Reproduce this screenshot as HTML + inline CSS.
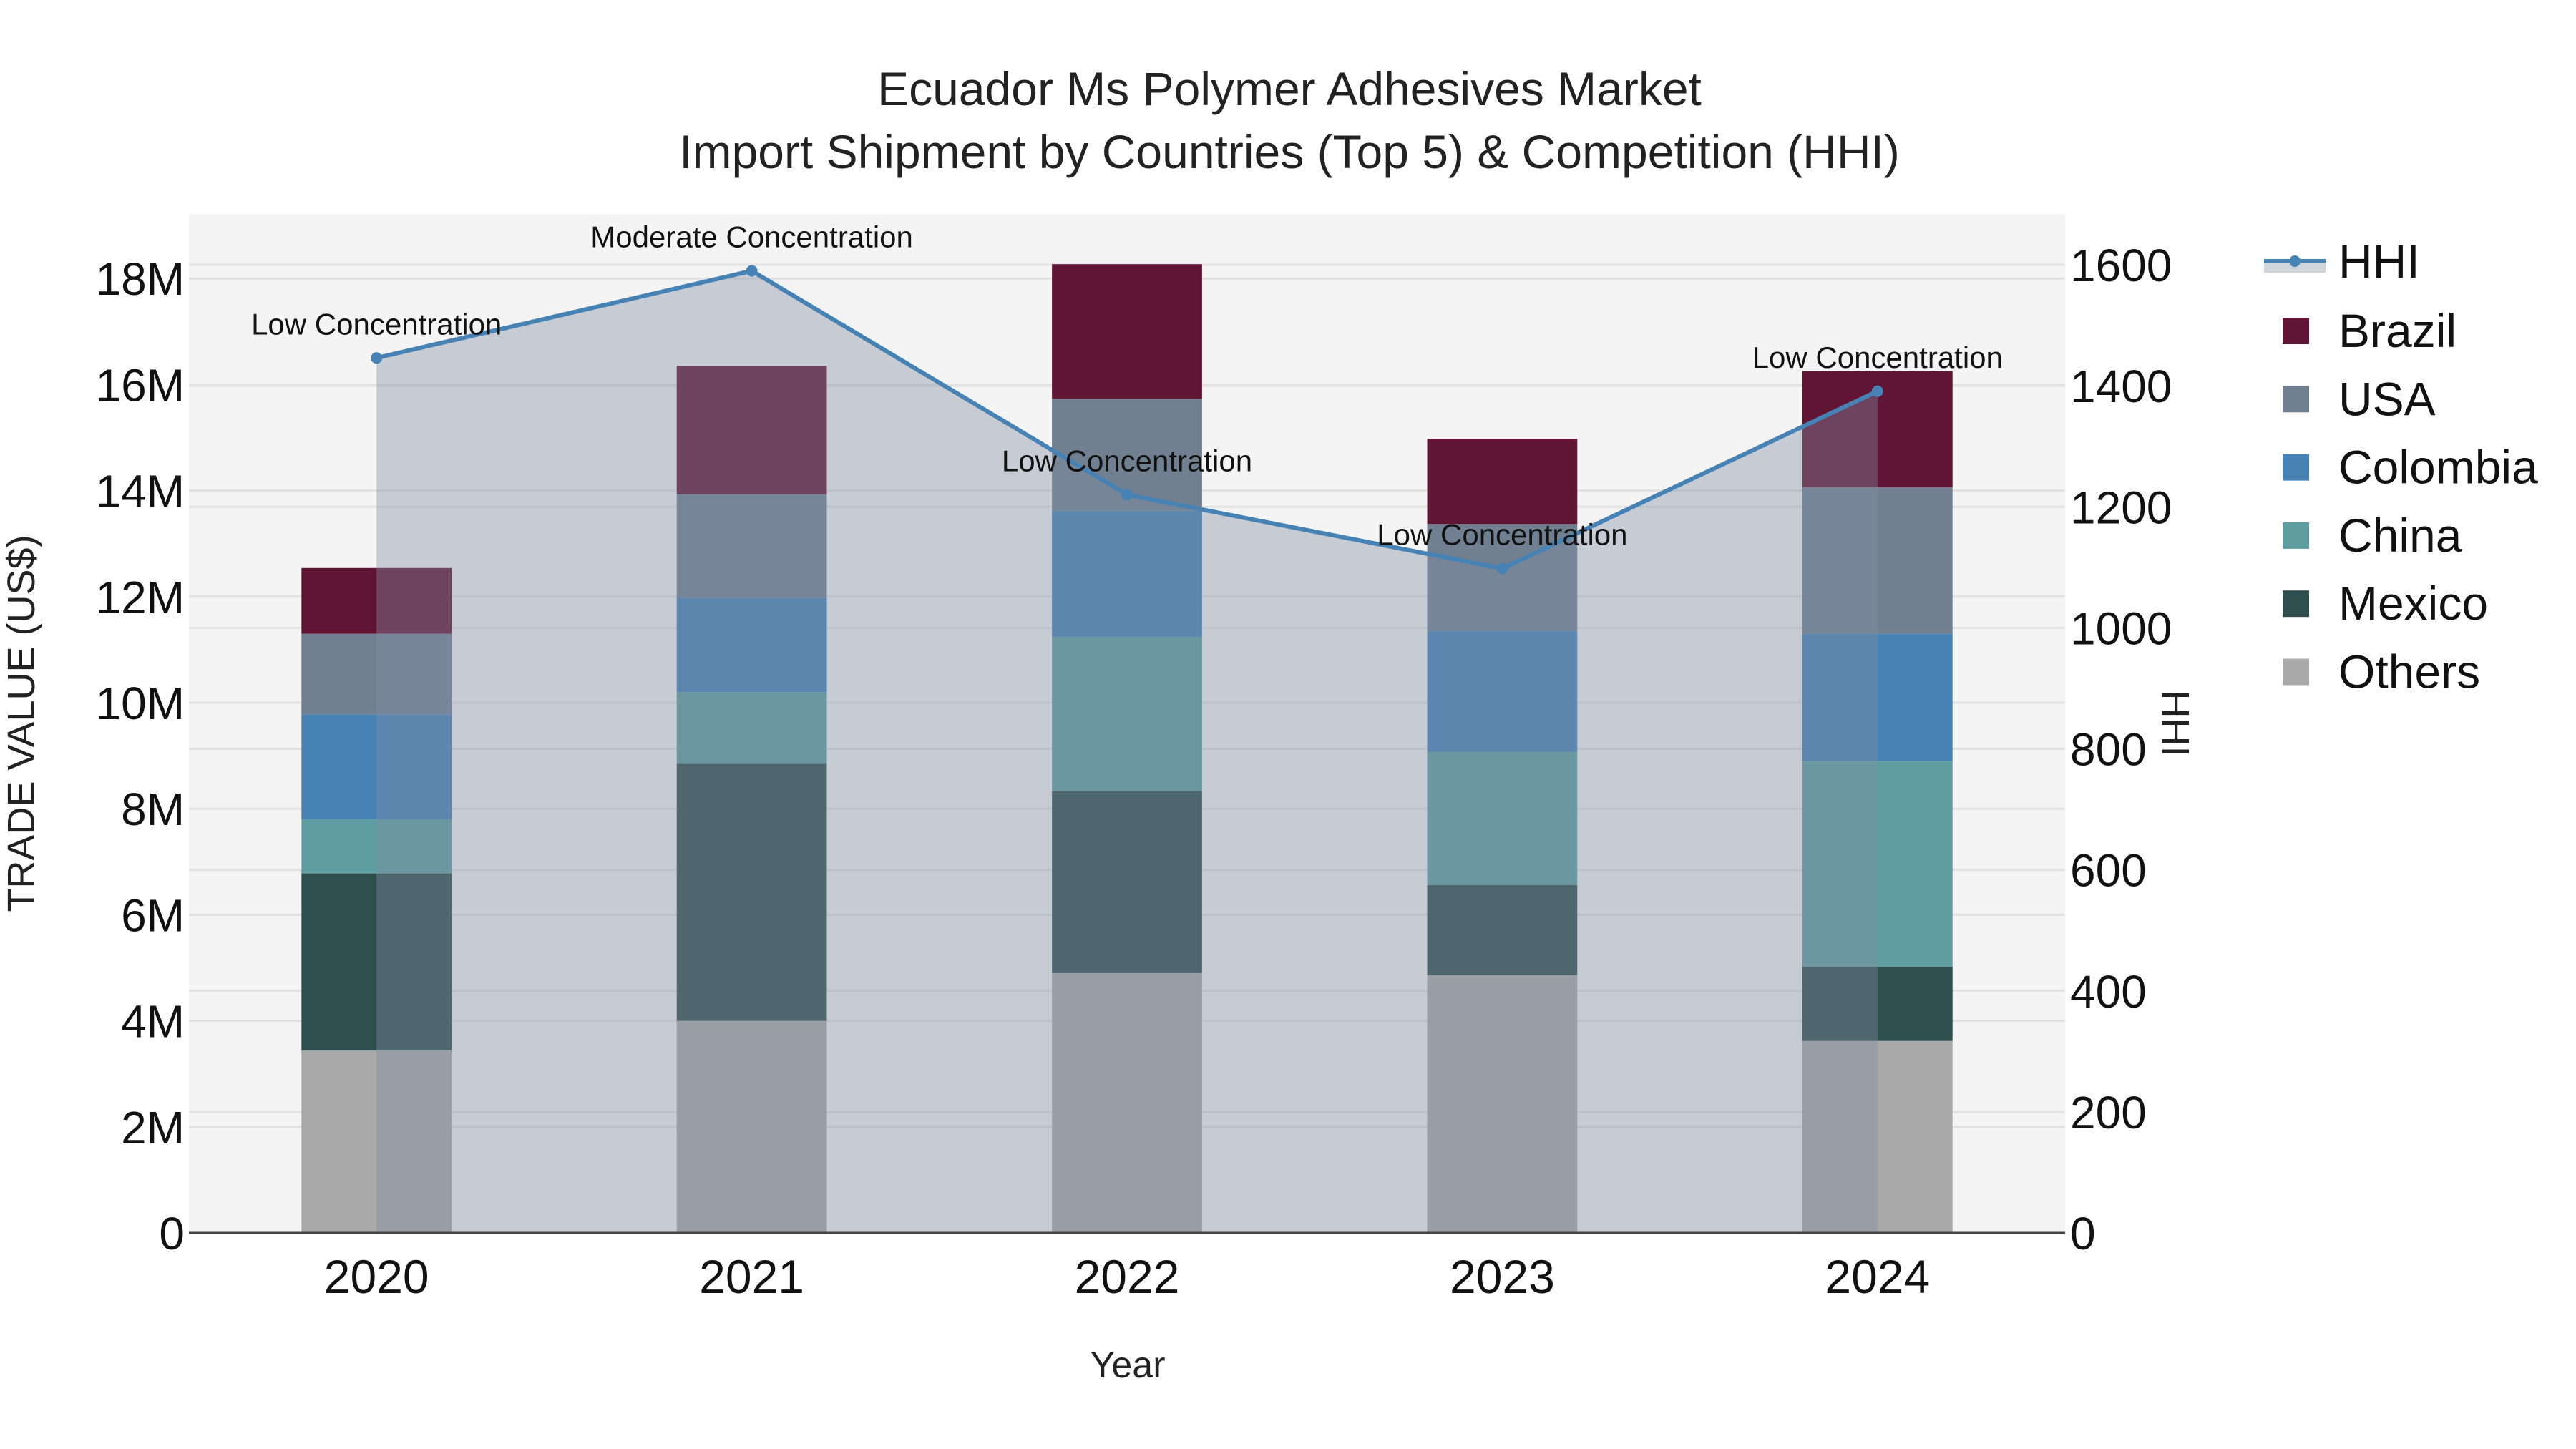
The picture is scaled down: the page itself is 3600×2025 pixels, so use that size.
<!DOCTYPE html>
<html><head><meta charset="utf-8"><style>
html,body{margin:0;padding:0;background:#fff;}
svg{display:block;font-family:"Liberation Sans",sans-serif;}
</style></head><body>
<svg id="chart" width="3600" height="2025" viewBox="0 0 3600 2025">
<rect x="0" y="0" width="3600" height="2025" fill="#fff"/>
<rect x="264" y="299" width="2622" height="1424" fill="#f4f4f4"/>
<g id="grid"></g><g id="bars"></g><g id="area"></g><g id="axes"></g><g id="annots"></g>
<text x="1802" y="147" font-size="66" text-anchor="middle" fill="#222">Ecuador Ms Polymer Adhesives Market</text>
<text x="1802" y="235" font-size="66" text-anchor="middle" fill="#222">Import Shipment by Countries (Top 5) &amp; Competition (HHI)</text>
<text x="1576" y="1925" font-size="52" text-anchor="middle" fill="#222">Year</text>
<text transform="translate(48,1011) rotate(-90)" font-size="54" text-anchor="middle" fill="#222">TRADE VALUE (US$)</text>
<text transform="translate(3022,1011) rotate(90)" font-size="54" text-anchor="middle" fill="#222">HHI</text>
<g id="legend"></g>
</svg>
<script>
const years=['2020','2021','2022','2023','2024'];
const countries=['Others','Mexico','China','Colombia','USA','Brazil'];
const others=[3.44,4.0,4.9,4.86,3.62];
const mexico=[3.34,4.85,3.43,1.7,1.4];
const china=[1.02,1.35,2.91,2.51,3.87];
const colombia=[1.98,1.78,2.38,2.29,2.41];
const usa=[1.52,1.95,2.11,2.01,2.76];
const brazil=[1.24,2.42,2.54,1.61,2.19];
const hhi=[1446,1590,1220,1098,1391];
const hhiLabels=['Low Concentration','Moderate Concentration','Low Concentration','Low Concentration','Low Concentration'];
const yTicks=[0,2,4,6,8,10,12,14,16,18];
const y2Ticks=[0,200,400,600,800,1000,1200,1400,1600];
const colors={Others:'#a9a9a9',Mexico:'#2f4f4f',China:'#5f9ea0',Colombia:'#4682b4',USA:'#708090',Brazil:'#611535'};
const series=[others,mexico,china,colombia,usa,brazil];
const NS='http://www.w3.org/2000/svg';
const X0=264,X1=2886,Y0=1723,YT=299;
const yMax=(Y0-YT)/74.1, y2Max=(Y0-YT)/0.8456;
const xs=i=>X0+(X1-X0)/years.length*(i+0.5);
const ys=v=>Y0-v/yMax*(Y0-YT);
const y2s=v=>Y0-v/y2Max*(Y0-YT);
const bw=(X1-X0)/years.length*0.4;
function mk(tag,attrs,parent,txt){const e=document.createElementNS(NS,tag);for(const k in attrs)e.setAttribute(k,attrs[k]);if(txt!==undefined)e.textContent=txt;parent.appendChild(e);return e;}
const grid=document.getElementById('grid'),axes=document.getElementById('axes');
yTicks.forEach(t=>{const y=ys(t);
 if(t>0){const l=mk('line',{x1:X0,x2:X1,y1:y,y2:y,stroke:'#e2e2e2','stroke-width':3},grid);
 
 }
 const tx=mk('text',{x:258,y:y+23,'font-size':64,'text-anchor':'end',fill:'#111'},axes,t===0?'0':t+'M');
 
 });
y2Ticks.forEach(t=>{const y=y2s(t);
 if(t>0){const l=mk('line',{x1:X0,x2:X1,y1:y,y2:y,stroke:'#e2e2e2','stroke-width':3},grid);
 
 }
 const tx=mk('text',{x:2893,y:y+23,'font-size':64,fill:'#111'},axes,String(t));
 
 });
years.forEach((yr,i)=>{const tx=mk('text',{x:xs(i),y:1807,'font-size':66,'text-anchor':'middle',fill:'#111'},axes,yr);
 
 });
const zl=mk('line',{x1:X0,x2:X1,y1:Y0,y2:Y0,stroke:'#444','stroke-width':3},axes);


const bars=document.getElementById('bars');
years.forEach((yr,i)=>{let base=0;series.forEach((s,k)=>{const top=base+s[i];
 const r=mk('rect',{x:xs(i)-bw/2,y:ys(top),width:bw,height:ys(base)-ys(top),fill:colors[countries[k]]},bars);
 
 
 base=top;});});
const area=document.getElementById('area');
let pts=years.map((y,i)=>xs(i)+','+y2s(hhi[i])).join(' ');
const poly=mk('polygon',{points:xs(0)+','+Y0+' '+pts+' '+xs(years.length-1)+','+Y0,fill:'rgba(128,141,161,0.39)'},area);


const pl=mk('polyline',{points:pts,fill:'none',stroke:'#4682b4','stroke-width':6},area);


const an=document.getElementById('annots');
hhi.forEach((v,i)=>{const c=mk('circle',{cx:xs(i),cy:y2s(v),r:8,fill:'#4682b4'},area);
 
 
 const t=mk('text',{x:xs(i),y:y2s(v)-33,'font-size':42,'text-anchor':'middle',fill:'#111'},an,hhiLabels[i]);
 
 });
const lg=document.getElementById('legend');
const li=mk('g',{},lg);


mk('rect',{x:3164,y:367,width:86,height:14,fill:'#d0d5dc'},li);
mk('line',{x1:3164,x2:3250,y1:365,y2:365,stroke:'#4682b4','stroke-width':6},li);
mk('circle',{cx:3207,cy:365,r:8,fill:'#4682b4'},li);
mk('text',{x:3268,y:388,'font-size':66,fill:'#111'},li,'HHI');
['Brazil','USA','Colombia','China','Mexico','Others'].forEach((n,k)=>{const y=462+k*95.3;
 const g=mk('g',{},lg);
 
 
 mk('rect',{x:3190,y:y-18,width:37,height:37,fill:colors[n]},g);
 mk('text',{x:3268,y:y+23,'font-size':66,fill:'#111'},g,n);});
</script>
</body></html>
